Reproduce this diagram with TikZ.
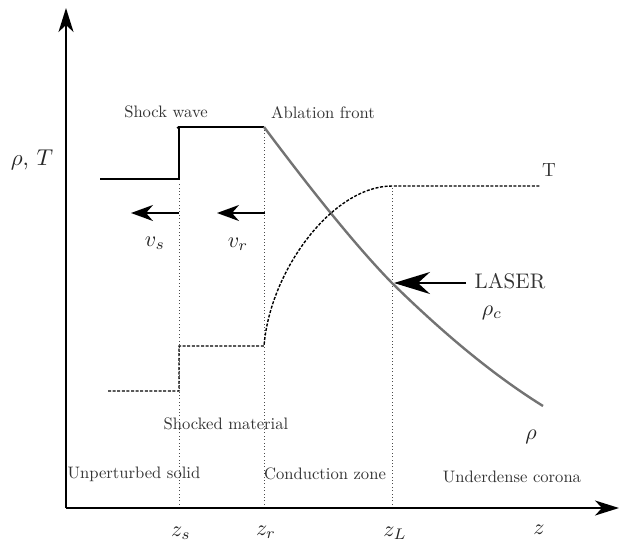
\documentclass[tikz,border=0pt]{standalone}
\usetikzlibrary{arrows.meta}
\begin{document}
\begin{tikzpicture}[x=1pt,y=-1pt,
  lbl/.style={text=black!80,scale=1.66,inner sep=0pt},
  mlbl/.style={text=black!85,scale=2.2,inner sep=0pt},
  axis/.style={line width=1.8pt,-{Stealth[length=24pt,width=15pt,inset=7pt]}},
  dens/.style={line width=1.6pt},
  temp/.style={line width=1.4pt,dash pattern=on 3pt off 1.6pt},
  guide/.style={line width=0.8pt,dash pattern=on 0.8pt off 2.6pt,black!70},
  profile/.style={line width=2.4pt,black!55},
  vel/.style={line width=1.5pt,-{Stealth[length=22pt,width=16pt,inset=7pt]}},
  laser/.style={line width=2pt,-{Stealth[length=36pt,width=22pt,inset=12pt]}}]
\useasboundingbox (0,0) rectangle (620,544);
% coordinates
\coordinate (O) at (66,508);
\coordinate (ytop) at (66,8);
\coordinate (xend) at (619,508);
\coordinate (zsB) at (179,508);
\coordinate (zrB) at (264,508);
\coordinate (zLB) at (392,508);
\coordinate (d0) at (100,179);
\coordinate (d1) at (179,179);
\coordinate (d2) at (179,127);
\coordinate (d3) at (264,127);
\coordinate (dL) at (392,283);
\coordinate (dE) at (543,406);
\coordinate (t0) at (108,391);
\coordinate (t1) at (179,391);
\coordinate (t2) at (179,346);
\coordinate (t3) at (264,346);
\coordinate (t4) at (392,186);
\coordinate (t5) at (540,186);
\coordinate (vs0) at (179,213);
\coordinate (vs1) at (131,213);
\coordinate (vr0) at (265,213);
\coordinate (vr1) at (217,213);
\coordinate (la0) at (466,283);
\coordinate (la1) at (394,283);
% guides
\draw[guide] (zsB) -- (179,184);
\draw[guide] (zrB) -- (d3);
\draw[guide] (zLB) -- (t4);
% axes
\draw[axis] (O) -- (ytop);
\draw[axis] (O) -- (xend);
% density step
\draw[dens] (d0) -- (d1) -- (d2) -- (d3);
\draw[dens] (177,128) -- (d2);
% density profile
\draw[profile] (d3) .. controls (300,175) and (350,240) .. (dL) .. controls (440,330) and (490,373) .. (dE);
% temperature
\draw[temp] (t0) -- (t1) -- (t2) -- (t3) .. controls (270,270) and (333,186) .. (t4) -- (t5);
% velocity arrows
\draw[vel] (vs0) -- (vs1);
\draw[vel] (vr0) -- (vr1);
\draw[laser] (la0) -- (la1);
% labels
\node[mlbl,scale=1.04] (rhoT) at (32,160) {$\rho$, $T$};
\node[lbl] (shock) at (166,112) {Shock wave};
\node[lbl] (abl) at (323,113) {Ablation front};
\node[lbl,scale=1.15] (Tl) at (549,170) {T};
\node[mlbl] (vs) at (155,243) {$v_s$};
\node[mlbl] (vr) at (238,244) {$v_r$};
\node[lbl,scale=1.27] (las) at (510,281) {LASER};
\node[mlbl] (rhoc) at (492,313) {$\rho_c$};
\node[mlbl] (rho) at (531,437) {$\rho$};
\node[lbl] (shm) at (226,424) {Shocked material};
\node[lbl] (uns) at (134,474) {Unperturbed solid};
\node[lbl] (cz) at (325,474) {Conduction zone};
\node[lbl] (uc) at (512,477) {Underdense corona};
\node[mlbl] (zs) at (181,533) {$z_s$};
\node[mlbl] (zr) at (266,532) {$z_r$};
\node[mlbl] (zL) at (395,533) {$z_L$};
\node[mlbl] (z) at (539,530) {$z$};
\end{tikzpicture}
\end{document}
